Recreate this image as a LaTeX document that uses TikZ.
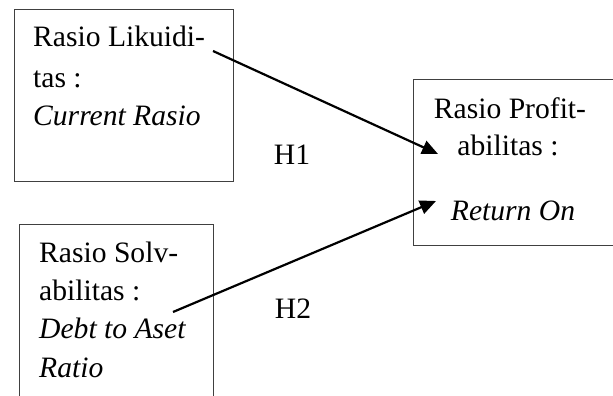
\documentclass[tikz,border=0pt]{standalone}
\usepackage{fontspec}
\setmainfont{Liberation Serif}
\usetikzlibrary{arrows.meta}
\begin{document}
\begin{tikzpicture}[x=1pt,y=-1pt,
  boxframe/.style={draw=black!75, line width=1pt, inner sep=0pt, anchor=north west},
  txt/.style={inner sep=0pt, anchor=base west, font=\fontsize{29.6}{39}\selectfont},
  ctxt/.style={inner sep=0pt, anchor=base, font=\fontsize{29.6}{39}\selectfont},
  link/.style={line width=2.2pt, -{Triangle[length=16pt,width=14pt]}}]
\useasboundingbox (0,0) rectangle (613,396);
\begin{scope}
\clip (0,0) rectangle (613,396);
% boxes
\node[boxframe, minimum width=219pt, minimum height=172pt] (b1) at (14,9) {};
\node[boxframe, minimum width=194pt, minimum height=186pt] (b2) at (19,224) {};
\node[boxframe, minimum width=212pt, minimum height=166pt] (b3) at (413,79) {};
% box 1 text
\node[txt] (l11) at (33,47) {Rasio Likuidi-};
\node[txt] (l12) at (33,87) {tas :};
\node[txt] (l13) at (33,125) {\itshape Current Rasio};
% box 2 text
\node[txt] (l21) at (39,262) {Rasio Solv-};
\node[txt] (l22) at (39,300) {abilitas :};
\node[txt] (l23) at (39,338) {\itshape Debt to Aset};
\node[txt] (l24) at (39,377) {\itshape Ratio};
% box 3 text
\node[ctxt] (l31) at (510,118) {Rasio Profit-};
\node[ctxt] (l32) at (508,155) {abilitas :};
\node[ctxt] (l33) at (513,220) {\itshape Return On};
% labels
\node[ctxt] (h1) at (292,164) {H1};
\node[ctxt] (h2) at (293,318) {H2};
% connectors
\coordinate (s1) at (213,51);
\coordinate (t1) at (438,154);
\coordinate (s2) at (173,312);
\coordinate (t2) at (436,201);
\draw[link] (s1) -- (t1);
\draw[link] (s2) -- (t2);
\end{scope}
\end{tikzpicture}
\end{document}
